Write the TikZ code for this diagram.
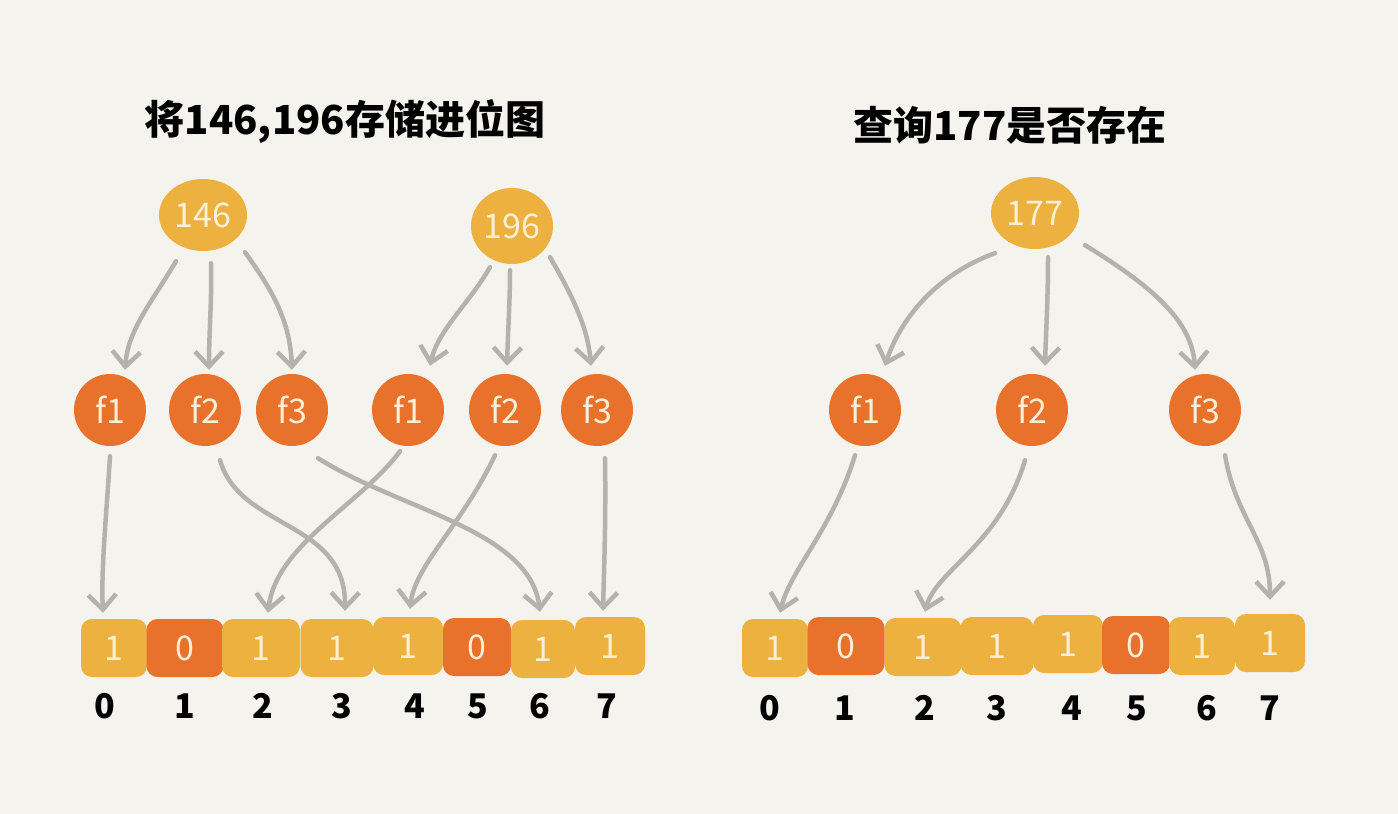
\documentclass[tikz,border=0pt]{standalone}
\usepackage{fontspec}
\setmainfont{Liberation Sans}
\newfontfamily\cjk{Noto Sans CJK SC}
\usetikzlibrary{arrows.meta,shapes.geometric}
\definecolor{bg}{HTML}{F4F3EE}
\definecolor{yel}{HTML}{ECB13F}
\definecolor{org}{HTML}{E8712B}
\definecolor{cream}{HTML}{FBF0D6}
\definecolor{arr}{HTML}{B3B2AC}
\begin{document}
\begin{tikzpicture}[x=1pt,y=-1pt,
  title/.style={text=black, font=\cjk\bfseries\fontsize{40}{40}\selectfont},
  keynode/.style={ellipse, fill=yel, text=cream, minimum width=88pt, minimum height=72pt, inner sep=0pt, font=\cjk\fontsize{34}{34}\selectfont},
  hashfn/.style={circle, fill=org, text=cream, minimum size=72pt, inner sep=0pt, font=\cjk\fontsize{34}{34}\selectfont},
  cell/.style={rectangle, rounded corners=11pt, minimum height=58pt, inner sep=0pt, text=cream, font=\cjk\fontsize{34}{34}\selectfont},
  bitone/.style={cell, fill=yel},
  bitzero/.style={cell, fill=org},
  idx/.style={text=black, font=\cjk\bfseries\fontsize{34}{34}\selectfont},
  link/.style={draw=arr, line width=4.5pt, line cap=round, line join=round, -{Straight Barb[length=15pt,width=28pt,line width=4.5pt]}}
]
\fill[bg] (0,0) rectangle (1398,814);
\useasboundingbox (0,0) rectangle (1398,814);

% titles
\node[title] (tl) at (345,122) {将146,196存储进位图};
\node[title] (tr) at (1010,125) {查询177是否存在};

% keys
\node[keynode] (k146) at (203,215) {146};
\node[keynode, minimum width=82pt, minimum height=76pt] (k196) at (512,226) {196};
\node[keynode] (k177) at (1035,213) {177};

% hash nodes
\node[hashfn] (la1) at (110,410) {f1};
\node[hashfn] (la2) at (205,410) {f2};
\node[hashfn] (la3) at (292,410) {f3};
\node[hashfn] (lb1) at (408,410) {f1};
\node[hashfn] (lb2) at (505,410) {f2};
\node[hashfn] (lb3) at (597,410) {f3};
\node[hashfn] (r1) at (865,410) {f1};
\node[hashfn] (r2) at (1032,410) {f2};
\node[hashfn] (r3) at (1205,410) {f3};

% left bit array
\node[bitone,  minimum width=66pt] (L0) at (114,648) {1};
\node[bitzero, minimum width=77pt] (L1) at (185,648) {0};
\node[bitone,  minimum width=78pt] (L2) at (261,648) {1};
\node[bitone,  minimum width=73pt] (L3) at (337,648) {1};
\node[bitone,  minimum width=70pt] (L4) at (408,646) {1};
\node[bitzero, minimum width=68pt] (L5) at (477,647) {0};
\node[bitone,  minimum width=64pt] (L6) at (543,649) {1};
\node[bitone,  minimum width=70pt] (L7) at (610,646) {1};

% right bit array
\node[bitone,  minimum width=66pt] (R0) at (775,648) {1};
\node[bitzero, minimum width=77pt] (R1) at (846,646) {0};
\node[bitone,  minimum width=77pt] (R2) at (923,647) {1};
\node[bitone,  minimum width=73pt] (R3) at (997,646) {1};
\node[bitone,  minimum width=70pt] (R4) at (1068,644) {1};
\node[bitzero, minimum width=68pt] (R5) at (1136,645) {0};
\node[bitone,  minimum width=66pt] (R6) at (1202,646) {1};
\node[bitone,  minimum width=70pt] (R7) at (1270,643) {1};

% indices
\foreach \n/\x in {0/105,1/185,2/263,3/342,4/415,5/478,6/540,7/607}
  \node[idx] (li\n) at (\x,706) {\n};
\foreach \n/\x in {0/770,1/845,2/925,3/997,4/1072,5/1137,6/1207,7/1270}
  \node[idx] (ri\n) at (\x,708) {\n};

% key -> hash arrows (left)
\draw[link] ([xshift=-27pt,yshift=-10pt]k146.south) .. controls (150,305) and (128,330) .. ([xshift=15pt,yshift=4pt]la1.north);
\draw[link] ([xshift=8pt,yshift=-12pt]k146.south) .. controls (212,300) and (209,330) .. ([xshift=4pt,yshift=4pt]la2.north);
\draw[link] ([xshift=42pt,yshift=-1pt]k146.south) .. controls (272,290) and (290,320) .. ([xshift=0pt,yshift=4pt]la3.north);
\draw[link] ([xshift=-22pt,yshift=-3pt]k196.south) .. controls (468,305) and (438,330) .. ([xshift=22pt,yshift=8pt]lb1.north);
\draw[link] ([xshift=-2pt,yshift=-6pt]k196.south) .. controls (510,300) and (508,330) .. ([xshift=2pt,yshift=8pt]lb2.north);
\draw[link] ([xshift=38pt,yshift=7pt]k196.south) .. controls (575,300) and (588,330) .. ([xshift=-6pt,yshift=8pt]lb3.north);

% key -> hash arrows (right)
\draw[link] ([xshift=-40pt,yshift=-4pt]k177.south) .. controls (935,275) and (900,320) .. ([xshift=20pt,yshift=8pt]r1.north);
\draw[link] ([xshift=13pt,yshift=-8pt]k177.south) .. controls (1048,300) and (1046,330) .. ([xshift=13pt,yshift=8pt]r2.north);
\draw[link] ([xshift=50pt,yshift=4pt]k177.south) .. controls (1150,285) and (1192,320) .. ([xshift=-10pt,yshift=4pt]r3.north);

% hash -> bit arrows (left)
\draw[link] ([yshift=-10pt]la1.south) .. controls (106,520) and (101,570) .. ([xshift=-11pt,yshift=6pt]L0.north);
\draw[link] ([xshift=15pt,yshift=-14pt]la2.south) .. controls (240,530) and (346,520) .. ([xshift=8pt,yshift=8pt]L3.north);
\draw[link] ([xshift=26pt,yshift=-12pt]la3.south) .. controls (400,510) and (530,530) .. ([xshift=-3pt,yshift=8pt]L6.north);
\draw[link] ([xshift=-8pt,yshift=-5pt]lb1.south) .. controls (360,505) and (276,545) .. ([xshift=7pt,yshift=6pt]L2.north);
\draw[link] ([xshift=-10pt,yshift=-9pt]lb2.south) .. controls (462,525) and (415,565) .. ([xshift=2pt,yshift=8pt]L4.north);
\draw[link] ([xshift=8pt,yshift=-12pt]lb3.south) .. controls (606,520) and (604,570) .. ([xshift=-7pt,yshift=6pt]L7.north);

% hash -> bit arrows (right)
\draw[link] ([xshift=-10pt,yshift=-9pt]r1.south) .. controls (832,530) and (790,570) .. ([xshift=5pt,yshift=6pt]R0.north);
\draw[link] ([xshift=-7pt,yshift=-14pt]r2.south) .. controls (1000,545) and (936,570) .. ([xshift=2pt,yshift=6pt]R2.north);
\draw[link] ([xshift=20pt,yshift=-9pt]r3.south) .. controls (1236,520) and (1270,540) .. ([xshift=0pt,yshift=14pt]R7.north);
\end{tikzpicture}
\end{document}
